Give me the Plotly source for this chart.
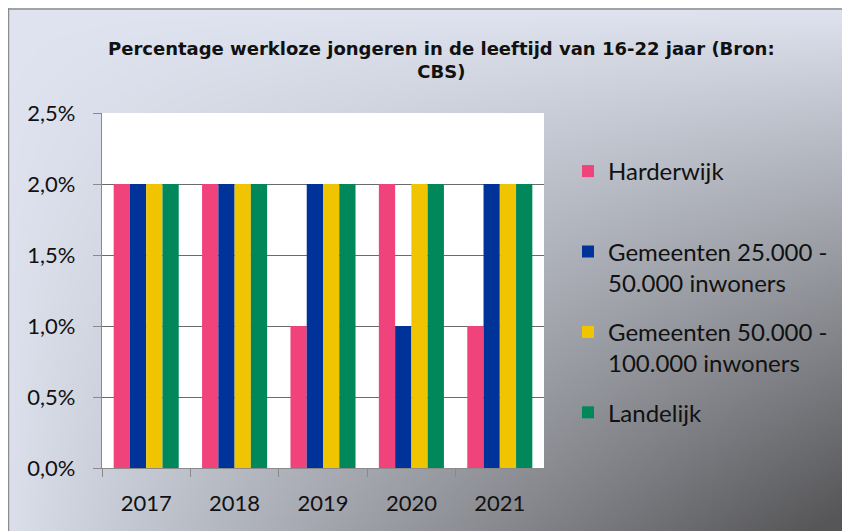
import base64, struct, zlib
import numpy as np
import plotly.graph_objects as go

# ---------------- data ----------------
years = ["2017", "2018", "2019", "2020", "2021"]
harderwijk = [0.02, 0.02, 0.01, 0.02, 0.01]
gem_25_50 = [0.02, 0.02, 0.02, 0.01, 0.02]
gem_50_100 = [0.02, 0.02, 0.02, 0.02, 0.02]
landelijk = [0.02, 0.02, 0.02, 0.02, 0.02]

series_names = ["Harderwijk<br> ", "Gemeenten 25.000 -<br>50.000 inwoners",
                "Gemeenten 50.000 -<br>100.000 inwoners", "Landelijk"]
series_values = [harderwijk, gem_25_50, gem_50_100, landelijk]
series_colors = ["#F0437B", "#00339A", "#F0C400", "#00885A"]

title_text = "Percentage werkloze jongeren in de leeftijd van 16-22 jaar (Bron:<br>CBS)"

# ---------------- geometry (figure pixels; page has an 8px body margin) ----------------
OFF = 8
W, H = 850 - OFF, 531 - OFF
PL, PR, PT, PB = 102 - OFF, 544 - OFF, 113 - OFF, 468 - OFF  # plot area
pw, ph = PR - PL, PB - PT


def px_x(x):
    return (x - PL) / pw


def px_y(y):
    return (PB - y) / ph


# ---------------- gradient background image ----------------
gw, gh = W // 3, H // 3
xs = np.linspace(0, 1, gw)[None, :]
ys = np.linspace(0, 1, gh)[:, None]
t = np.clip((xs * ys) ** 0.92 + 0.03 * ys, 0, 1)
light = np.array([223, 228, 240], dtype=float)
dark = np.array([86, 86, 88], dtype=float)
img = (light[None, None, :] + (dark - light)[None, None, :] * t[:, :, None]).astype(np.uint8)


def to_png(a):
    hh, ww, _ = a.shape
    raw = b"".join(b"\x00" + a[r].tobytes() for r in range(hh))

    def chunk(tag, data):
        c = struct.pack(">I", len(data)) + tag + data
        return c + struct.pack(">I", zlib.crc32(tag + data) & 0xFFFFFFFF)

    return (b"\x89PNG\r\n\x1a\n" + chunk(b"IHDR", struct.pack(">IIBBBBB", ww, hh, 8, 2, 0, 0, 0))
            + chunk(b"IDAT", zlib.compress(raw, 9)) + chunk(b"IEND", b""))


bg_uri = "data:image/png;base64," + base64.b64encode(to_png(img)).decode()

# ---------------- figure ----------------
fig = go.Figure()
for i, (name, vals, col) in enumerate(zip(series_names, series_values, series_colors)):
    fig.add_trace(go.Bar(x=years, y=vals, name=name, marker=dict(color=col, line=dict(width=0)),
                         legendgroup=f"g{i}"))

axis_gray = "#8a8a8a"
title_font = dict(family="DejaVu Sans", size=18, color="#111111", weight="bold")
fig.update_layout(
    width=W, height=H,
    margin=dict(l=PL, r=W - PR, t=PT, b=H - PB, pad=0),
    paper_bgcolor="white",
    plot_bgcolor="rgba(0,0,0,0)",
    separators=",.",
    barmode="group",
    bargap=0.264,
    bargroupgap=0,
    font=dict(family="Lato", size=22, color="#111111"),
    showlegend=True,
    legend=dict(
        x=px_x(560), xanchor="left", y=px_y(141), yanchor="top",
        bgcolor="rgba(0,0,0,0)", borderwidth=0,
        font=dict(family="Lato", size=24, color="#111111"),
        valign="top", traceorder="grouped", tracegroupgap=15,
    ),
    xaxis=dict(
        type="category", tickson="boundaries", ticks="outside", ticklen=8, tickwidth=1.3,
        tickcolor=axis_gray, showline=True, linecolor=axis_gray, linewidth=1.3,
        showgrid=False, ticklabelstandoff=15, tickfont=dict(size=22),
    ),
    yaxis=dict(
        range=[0, 0.025], dtick=0.005, tickformat=".1%", ticks="outside", ticklen=8,
        tickwidth=1.3, tickcolor=axis_gray, showline=True, linecolor=axis_gray, linewidth=1.3,
        showgrid=True, gridcolor="#6b6b6b", gridwidth=1.3, zeroline=False,
        ticklabelstandoff=13, tickfont=dict(size=22),
    ),
    images=[dict(
        source=bg_uri, xref="paper", yref="paper", x=px_x(0), y=px_y(0),
        sizex=W / pw, sizey=H / ph, sizing="stretch",
        xanchor="left", yanchor="top", layer="below",
    )],
    shapes=[
        dict(type="rect", xref="x domain", yref="y domain", x0=0, x1=1, y0=0, y1=1,
             fillcolor="white", line=dict(width=0), layer="below"),
        dict(type="line", xref="paper", yref="paper", x0=px_x(0), x1=px_x(W + 5),
             y0=px_y(1), y1=px_y(1), line=dict(color="#8c8c8c", width=1.5)),
        dict(type="line", xref="paper", yref="paper", x0=px_x(0.5), x1=px_x(0.5),
             y0=px_y(0), y1=px_y(H + 5), line=dict(color="#8c8c8c", width=1.5)),
    ],
    annotations=[
        dict(text=title_text, xref="paper", yref="paper", x=px_x(433), y=px_y(52.5),
             xanchor="center", yanchor="middle", showarrow=False, align="center",
             font=title_font),
    ],
)

fig.write_html("out.html")
